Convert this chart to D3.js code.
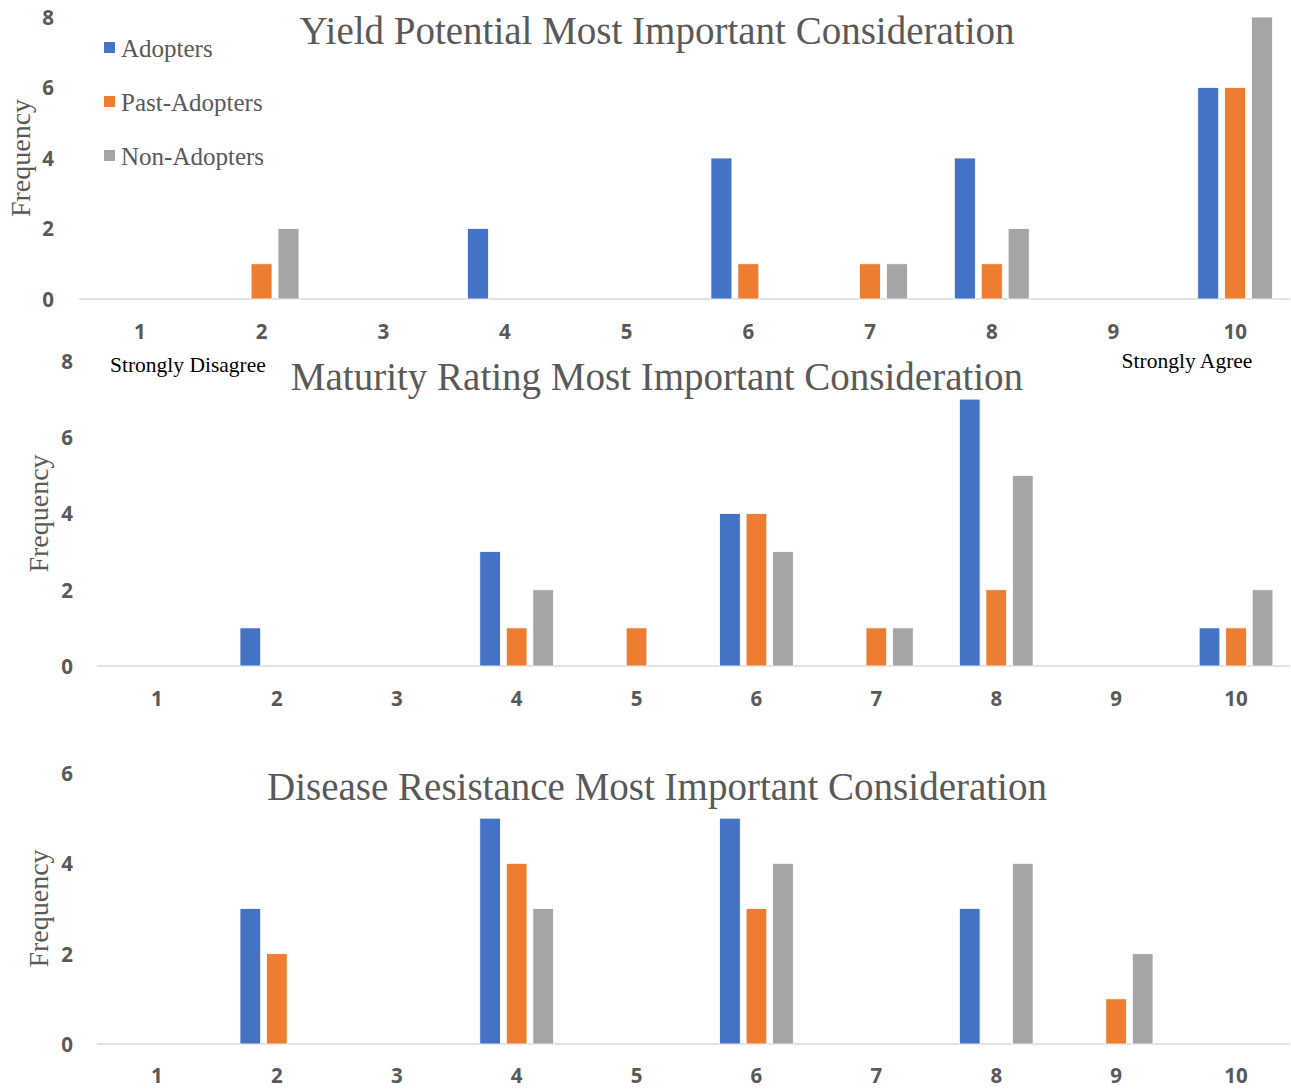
<!DOCTYPE html>
<html>
<head>
<meta charset="utf-8">
<script src="https://cdn.jsdelivr.net/npm/d3@7"></script>
<style>
  html, body { margin: 0; padding: 0; background: #fff; }
  svg { display: block; }
</style>
</head>
<body>
<svg id="chart" width="1291" height="1089"></svg>
<script>
// Agreement scale 1 (strongly disagree) to 10 (strongly agree)
const categories = ["1", "2", "3", "4", "5", "6", "7", "8", "9", "10"];
const seriesNames = ["Adopters", "Past-Adopters", "Non-Adopters"];
const seriesColors = ["#4472C4", "#ED7D31", "#A5A5A5"];

// Yield potential
const yieldAdopters    = [0, 0, 0, 2, 0, 4, 0, 4, 0, 6];
const yieldPast        = [0, 1, 0, 0, 0, 1, 1, 1, 0, 6];
const yieldNon         = [0, 2, 0, 0, 0, 0, 1, 2, 0, 8];

// Maturity rating
const maturityAdopters = [0, 1, 0, 3, 0, 4, 0, 7, 0, 1];
const maturityPast     = [0, 0, 0, 1, 1, 4, 1, 2, 0, 1];
const maturityNon      = [0, 0, 0, 2, 0, 3, 1, 5, 0, 2];

// Disease resistance
const diseaseAdopters  = [0, 3, 0, 5, 0, 5, 0, 3, 0, 0];
const diseasePast      = [0, 2, 0, 4, 0, 3, 0, 0, 1, 0];
const diseaseNon       = [0, 0, 0, 3, 0, 4, 0, 4, 2, 0];

const yTicks1 = [0, 2, 4, 6, 8];
const yTicks2 = [0, 2, 4, 6, 8];
const yTicks3 = [0, 2, 4, 6];

const svg = d3.select("#chart");
const textGray = "#595959";
const serif = "'Liberation Serif', 'Times New Roman', serif";
const sans = "'Open Sans', Lato, sans-serif";

const panels = [
  { title: "Yield Potential Most Important Consideration",
    series: [yieldAdopters, yieldPast, yieldNon], yMax: 8, ticks: yTicks1,
    left: 79, right: 1296, top: 17, bottom: 299,
    tickX: 48, xLabelY: 340, titleY: 44, freqX: 30, legend: true },
  { title: "Maturity Rating Most Important Consideration",
    series: [maturityAdopters, maturityPast, maturityNon], yMax: 8, ticks: yTicks2,
    left: 97, right: 1296, top: 361, bottom: 666,
    tickX: 67, xLabelY: 707, titleY: 390, freqX: 48 },
  { title: "Disease Resistance Most Important Consideration",
    series: [diseaseAdopters, diseasePast, diseaseNon], yMax: 6, ticks: yTicks3,
    left: 97, right: 1296, top: 773, bottom: 1044,
    tickX: 67, xLabelY: 1084, titleY: 800, freqX: 48 }
];

panels.forEach(p => {
  const g = svg.append("g");

  const x = d3.scaleBand().domain(categories).range([p.left, p.right]).padding(0);
  const x1 = d3.scaleBand().domain(seriesNames).range([0, x.bandwidth()])
    .paddingInner(0.22).paddingOuter(0.87);
  const y = d3.scaleLinear().domain([0, p.yMax]).range([p.bottom, p.top]);

  // baseline
  g.append("line")
    .attr("x1", p.left).attr("x2", 1290)
    .attr("y1", y(0)).attr("y2", y(0))
    .attr("stroke", "#d9d9d9").attr("stroke-width", 1.3);

  // y tick labels
  const yAxis = d3.axisLeft(y).tickValues(p.ticks).tickSize(0).tickFormat(d3.format("d"));
  const ya = g.append("g").attr("transform", `translate(${p.tickX},0)`).call(yAxis);
  ya.select(".domain").remove();
  ya.selectAll("text")
    .attr("x", 0).attr("text-anchor", "middle").attr("dy", "0.36em")
    .attr("fill", textGray).style("font-family", sans)
    .style("font-weight", "700").style("font-size", "20.5px");

  // x tick labels
  const xAxis = d3.axisBottom(x).tickSize(0);
  const xa = g.append("g").attr("transform", `translate(0,${p.xLabelY - 16})`).call(xAxis);
  xa.select(".domain").remove();
  xa.selectAll("text")
    .attr("y", 0).attr("dy", "0.71em")
    .attr("fill", textGray).style("font-family", sans)
    .style("font-weight", "700").style("font-size", "20.5px");

  // bars
  seriesNames.forEach((name, si) => {
    const vals = p.series[si];
    g.append("g").selectAll("rect")
      .data(categories.map((c, i) => ({ c, v: vals[i] })).filter(d => d.v > 0))
      .join("rect")
      .attr("x", d => x(d.c) + x1(name))
      .attr("width", x1.bandwidth())
      .attr("y", d => y(d.v))
      .attr("height", d => y(0) - y(d.v))
      .attr("fill", seriesColors[si])
      .attr("stroke", "#fff").attr("stroke-width", 0.8);
  });

  // title
  g.append("text")
    .attr("x", 657).attr("y", p.titleY)
    .attr("text-anchor", "middle")
    .attr("fill", textGray)
    .style("font-family", serif)
    .style("font-size", "39px")
    .text(p.title);

  // y axis title
  const midY = (p.top + p.bottom) / 2;
  g.append("text")
    .attr("transform", `translate(${p.freqX},${midY}) rotate(-90)`)
    .attr("text-anchor", "middle")
    .attr("fill", textGray)
    .style("font-family", serif)
    .style("font-size", "28px")
    .text("Frequency");

  if (p.legend) {
    const lg = g.append("g");
    seriesNames.forEach((name, si) => {
      const ly = 48 + si * 54;
      lg.append("rect")
        .attr("x", 104).attr("y", ly - 6).attr("width", 11).attr("height", 11)
        .attr("fill", seriesColors[si]);
      lg.append("text")
        .attr("x", 121).attr("y", ly).attr("dy", "0.35em")
        .attr("fill", textGray)
        .style("font-family", serif)
        .style("font-size", "25px")
        .text(name);
    });
  }
});

// scale end annotations
svg.append("text")
  .attr("x", 110).attr("y", 372)
  .attr("fill", "#000")
  .style("font-family", serif)
  .style("font-size", "21.5px")
  .text("Strongly Disagree");
svg.append("text")
  .attr("x", 1187).attr("y", 368)
  .attr("text-anchor", "middle")
  .attr("fill", "#000")
  .style("font-family", serif)
  .style("font-size", "21.5px")
  .text("Strongly Agree");
</script>
</body>
</html>
